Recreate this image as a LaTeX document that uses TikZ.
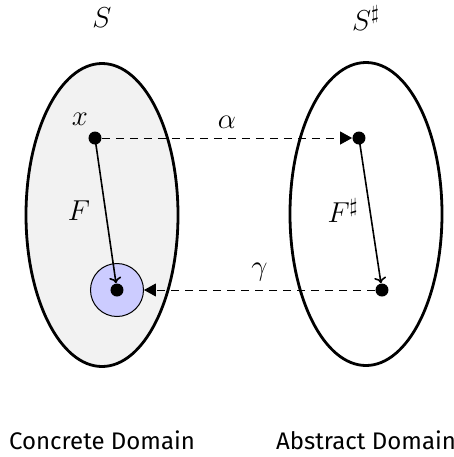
\documentclass[tikz,border=0pt]{standalone}
\usepackage{fontspec}
\newfontfamily\labelfont{Fira Sans}
\usetikzlibrary{shapes.geometric,arrows.meta}

\tikzset{
  domainset/.style={draw, line width=1.4pt, ellipse, minimum width=76pt, minimum height=151.5pt, inner sep=0pt},
  dot/.style={circle, fill=black, minimum size=6.5pt, inner sep=0pt},
  halo/.style={circle, draw, fill=blue!20, line width=0.5pt, minimum size=26.5pt, inner sep=0pt},
  map/.style={dash pattern=on 4pt off 3pt, line width=0.45pt, -{Triangle[length=6pt,width=6.5pt]}},
  stepto/.style={line width=0.8pt, -{To[length=3pt,width=6pt]}},
  domlabel/.style={font=\labelfont\fontsize{12}{14}\selectfont}
}

\begin{document}
\begin{tikzpicture}[x=0.5pt,y=-0.5pt,font=\fontsize{14}{17}\selectfont]
\useasboundingbox (0,0) rectangle (454,457);

% the two domains
\node[domainset, fill=gray!10] (conc) at (102,215) {};
\node[domainset] (abst) at (366,214) {};
\node (S) at (102,18) {$S$};
\node (Ssharp) at (366,18) {$S^\sharp$};

% points
\node[halo] (halo) at (117,290) {};
\node[dot] (x) at (95,138) {};
\node[dot] (y) at (117,290) {};
\node[dot] (xs) at (359,138) {};
\node[dot] (ys) at (382,290) {};
\node (xlab) at (80,119) {$x$};

% maps
\draw[map] (x) -- (xs) node[midway, above=1pt] {$\alpha$};
\draw[map] (ys) -- (halo) node[midway, above=1pt] {$\gamma$};
\draw[stepto] (x.center) -- (y) node[midway, left=4pt] {$F$};
\draw[stepto] (xs.center) -- (ys) node[midway, left=2pt] {$F^\sharp$};

\node[domlabel] (conclab) at (102,440) {Concrete Domain};
\node[domlabel] (abstlab) at (366,440) {Abstract Domain};
\end{tikzpicture}
\end{document}
